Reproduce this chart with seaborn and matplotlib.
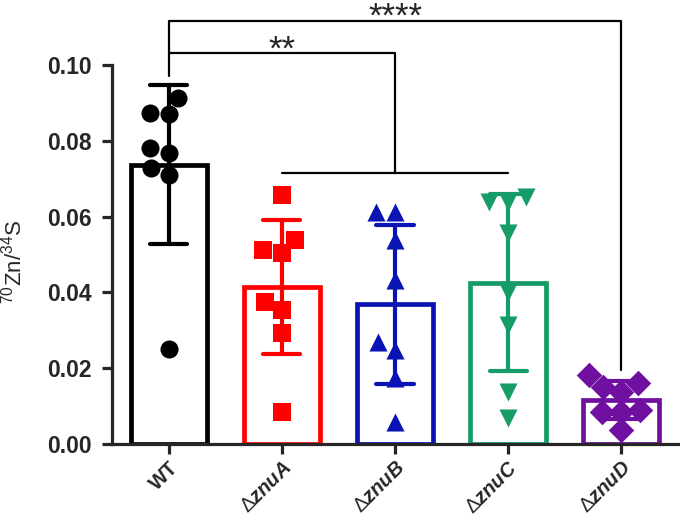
import numpy as np
import pandas as pd
import matplotlib
matplotlib.use('Agg')
import matplotlib.pyplot as plt
import seaborn as sns

# values (8 replicates per strain)
groups = ['WT', 'znuA', 'znuB', 'znuC', 'znuD']
wt = [0.0912, 0.0873, 0.0871, 0.0780, 0.0769, 0.0727, 0.0710, 0.0250]
znuA = [0.0657, 0.0538, 0.0512, 0.0505, 0.0375, 0.0354, 0.0294, 0.0085]
znuB = [0.0613, 0.0613, 0.0538, 0.0433, 0.0270, 0.0248, 0.0173, 0.0059]
znuC = [0.0652, 0.0639, 0.0639, 0.0556, 0.0402, 0.0314, 0.0138, 0.0068]
znuD = [0.0182, 0.0160, 0.0151, 0.0138, 0.0090, 0.0085, 0.0085, 0.0037]

colors = ['#000000', '#FF0000', '#0A14B4', '#169C66', '#7010A0']
markers = ['o', 's', '^', 'v', 'D']
tick_labels = ['WT', r'$\Delta\mathbfit{znuA}$', r'$\Delta\mathbfit{znuB}$',
               r'$\Delta\mathbfit{znuC}$', r'$\Delta\mathbfit{znuD}$']
yticks = [0.00, 0.02, 0.04, 0.06, 0.08, 0.10]
sig_labels = ['**', '****']

df = pd.DataFrame({
    'group': np.repeat(groups, 8),
    'value': wt + znuA + znuB + znuC + znuD,
})

sns.set_style('ticks')
plt.rcParams['font.family'] = ['Liberation Sans', 'DejaVu Sans']
plt.rcParams['mathtext.fontset'] = 'custom'
plt.rcParams['mathtext.rm'] = 'Liberation Sans'
plt.rcParams['mathtext.it'] = 'Liberation Sans:italic'
plt.rcParams['mathtext.bf'] = 'Liberation Sans:bold'
plt.rcParams['mathtext.bfit'] = 'Liberation Sans:bold:italic'

fig = plt.figure(figsize=(6.8, 5.18), dpi=100)
ax = fig.add_axes([112 / 680, 74 / 518, 566 / 680, 440 / 518])

for g, c, m in zip(groups, colors, markers):
    sub = df[df.group == g]
    sns.barplot(data=sub, x='group', y='value', order=groups, color=c,
                fill=False, linewidth=3.4, width=0.67, errorbar='sd',
                capsize=0.33, err_kws={'color': c, 'linewidth': 3}, ax=ax)
    sns.swarmplot(data=sub, x='group', y='value', order=groups, color=c,
                  marker=m, size=13, linewidth=0, zorder=3, ax=ax)

ax.set_xlim(-0.5, 4.5)
ax.set_ylim(0, 0.1161)
ax.set_yticks(yticks)
ax.set_yticklabels(['%.2f' % t for t in yticks], fontsize=16.5, fontweight='bold')
ax.set_xticks(range(len(groups)))
ax.set_xticklabels(tick_labels, fontsize=14.5, fontweight='bold', rotation=45,
                   ha='right', rotation_mode='anchor')
ax.tick_params(axis='both', width=2.3, length=7.5, direction='out')
ax.tick_params(axis='y', pad=7)
ax.tick_params(axis='x', pad=2.5)
ax.set_xlabel('')
ax.set_ylabel('')
fig.text(14 / 680, 1 - 262 / 518, r'$^{70}$Zn/$^{34}$S', rotation=90,
         ha='center', va='center', fontsize=16)

for s in ['top', 'right']:
    ax.spines[s].set_visible(False)
for s in ['left', 'bottom']:
    ax.spines[s].set_linewidth(2.3)
ax.spines['left'].set_bounds(0, 0.10)

# significance brackets
lw = 1.6
ax.plot([0, 0, 4, 4], [0.0971, 0.1116, 0.1116, 0.0195], color='black', lw=lw, clip_on=False)
ax.plot([0, 2, 2], [0.1032, 0.1032, 0.0716], color='black', lw=lw, clip_on=False)
ax.plot([1, 3], [0.0716, 0.0716], color='black', lw=lw, clip_on=False)
ax.text(1, 0.1082, sig_labels[0], ha='center', va='top', fontsize=25, clip_on=False)
ax.text(2, 0.1170, sig_labels[1], ha='center', va='top', fontsize=25, clip_on=False)

fig.savefig('out.png', dpi=100)
